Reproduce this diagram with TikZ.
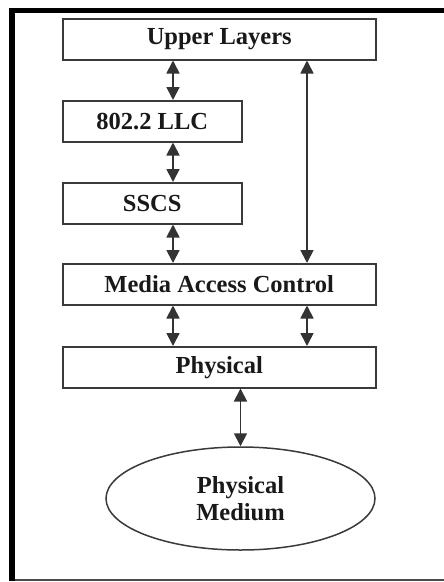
\documentclass[tikz,border=0pt]{standalone}
\usepackage{fontspec}
\setmainfont{Liberation Serif}
\usetikzlibrary{arrows.meta,shapes.geometric}
\definecolor{edge}{HTML}{3A3A3A}
\begin{document}
\begin{tikzpicture}[x=1pt,y=-1pt,
  layer/.style={draw=edge,line width=1.5pt,fill=white,inner sep=0pt,
    font=\fontsize{24.5}{27}\selectfont\bfseries,text=black!90},
  link/.style={line width=1.8pt,draw=black!80,
    {Triangle[length=13pt,width=13pt]}-{Triangle[length=13pt,width=13pt]}}]
  \useasboundingbox (0,0) rectangle (444,582);
  % frame
  \fill[black] (9,8) rectangle (444,13);
  \fill[black] (9,8) rectangle (15,581);
  \draw[black!70,line width=1.5pt] (15,580) -- (444,580);
  % layers
  \node[layer,minimum width=313pt,minimum height=41pt,anchor=north west] (ul) at (62,18) {Upper Layers};
  \node[layer,minimum width=179pt,minimum height=41pt,anchor=north west] (llc) at (62,100) {802.2 LLC};
  \node[layer,minimum width=179pt,minimum height=41pt,anchor=north west] (sscs) at (62,182) {SSCS};
  \node[layer,minimum width=313pt,minimum height=41pt,anchor=north west] (mac) at (62,263) {Media Access Control};
  \node[layer,minimum width=313pt,minimum height=41pt,anchor=north west] (phy) at (62,346) {Physical};
  \node[layer,ellipse,minimum width=269pt,minimum height=103pt,align=center] (med) at (240.5,498.5) {Physical\\Medium};
  % connectors
  \draw[link] (ul.south -| 173,0) -- (llc.north -| 173,0);
  \draw[link] (llc.south -| 173,0) -- (sscs.north -| 173,0);
  \draw[link] (sscs.south -| 173,0) -- (mac.north -| 173,0);
  \draw[link] (ul.south -| 307,0) -- (mac.north -| 307,0);
  \draw[link] (mac.south -| 173,0) -- (phy.north -| 173,0);
  \draw[link] (mac.south -| 307,0) -- (phy.north -| 307,0);
  \draw[link] (phy.south -| med.north) -- (med.north);
\end{tikzpicture}
\end{document}
